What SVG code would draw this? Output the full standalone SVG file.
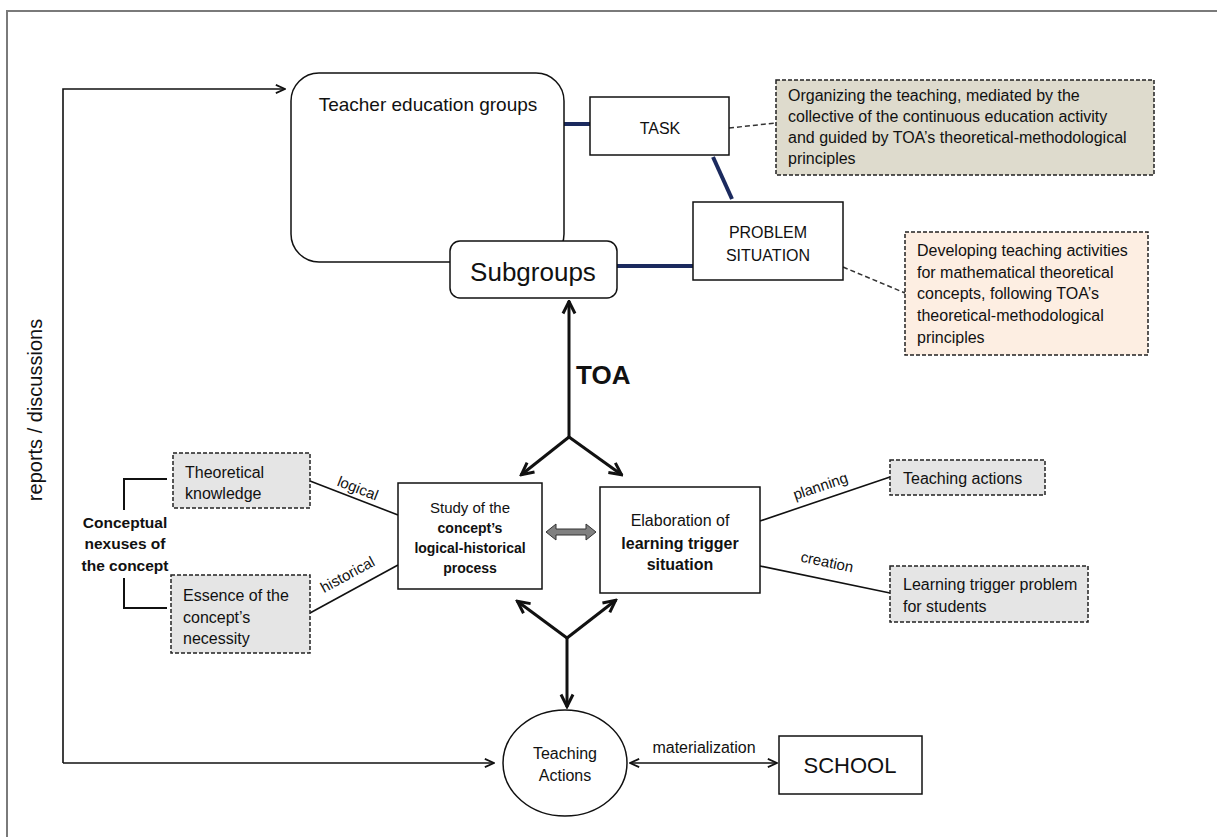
<svg xmlns="http://www.w3.org/2000/svg" width="1217" height="837" viewBox="0 0 1217 837">
<defs>
<style>
text{font-family:"Liberation Sans",Arial,sans-serif;fill:#111}
.box{fill:#fff;stroke:#111;stroke-width:1.5}
.dbox{stroke:#222;stroke-width:1.5;stroke-dasharray:4 2}
.grey{fill:#e5e5e5}
.navy{stroke:#1b2a5e;stroke-width:4;fill:none}
.dash{stroke:#333;stroke-width:1.5;stroke-dasharray:5 3;fill:none}
.thin{stroke:#111;stroke-width:1.6;fill:none}
.thick{stroke:#111;stroke-width:3;fill:none}
.c{text-anchor:middle}
.b{font-weight:bold}
</style>
<marker id="ah" viewBox="0 0 12 12" refX="11" refY="6" markerWidth="11" markerHeight="11" orient="auto-start-reverse" markerUnits="userSpaceOnUse"><path d="M1,1.5 L11,6 L1,10.5" fill="none" stroke="#111" stroke-width="1.8"/></marker>
<marker id="ahT" viewBox="0 0 16 16" refX="14.5" refY="8" markerWidth="16" markerHeight="16" orient="auto-start-reverse" markerUnits="userSpaceOnUse"><path d="M2,2 L14,8 L2,14" fill="none" stroke="#111" stroke-width="3"/></marker>
</defs>

<g id="frame" fill="none" stroke="#7a7a7a" stroke-width="2">
<path d="M7,837 V11 H1217"/>
</g>

<g id="connectors">
<path class="thin" d="M63,763 V89 H285" marker-end="url(#ah)"/>
<path class="thin" d="M63,763 H494" marker-end="url(#ah)"/>
<line class="thin" x1="427" y1="135" x2="482" y2="223" marker-start="url(#ah)" marker-end="url(#ah)"/>
<line class="navy" x1="564" y1="124" x2="590" y2="124"/>
<line class="navy" x1="617" y1="266" x2="693" y2="266"/>
<line class="navy" x1="713" y1="157" x2="732" y2="199"/>
<line class="dash" x1="729" y1="128" x2="776" y2="123"/>
<line class="dash" x1="843" y1="267" x2="905" y2="293"/>
<line class="thick" x1="569" y1="437" x2="569" y2="301" marker-end="url(#ahT)"/>
<line class="thick" x1="569" y1="437" x2="521" y2="475" marker-end="url(#ahT)"/>
<line class="thick" x1="569" y1="437" x2="622" y2="475" marker-end="url(#ahT)"/>
<line class="thick" x1="567" y1="638" x2="517" y2="601" marker-end="url(#ahT)"/>
<line class="thick" x1="567" y1="638" x2="616" y2="600" marker-end="url(#ahT)"/>
<line class="thick" x1="567" y1="638" x2="567" y2="707" marker-end="url(#ahT)"/>
<polygon points="546,532 556,524 556,529 586,529 586,524 596,532 586,540 586,535 556,535 556,540" fill="#808080" stroke="#333" stroke-width="1"/>
<line class="thin" x1="310" y1="481" x2="398" y2="515"/>
<line class="thin" x1="310" y1="613" x2="398" y2="565"/>
<line class="thin" x1="760" y1="521" x2="890" y2="477"/>
<line class="thin" x1="760" y1="566" x2="890" y2="593"/>
<path d="M167,479 H124 V510 M124,578 V608 H167" fill="none" stroke="#111" stroke-width="2"/>
<line class="thin" x1="630" y1="763" x2="777" y2="763" marker-start="url(#ah)" marker-end="url(#ah)"/>
<text x="356" y="493" font-size="15" class="c" transform="rotate(21 356 493)">logical</text>
<text x="350" y="579" font-size="15" class="c" transform="rotate(-28.6 350 579)">historical</text>
<text x="822" y="491" font-size="15" class="c" transform="rotate(-18.7 822 491)">planning</text>
<text x="826" y="567" font-size="15" class="c" transform="rotate(12 826 567)">creation</text>
<text x="704" y="753" font-size="16" class="c">materialization</text>
<text x="42" y="410" font-size="20" class="c" transform="rotate(-90 42 410)">reports / discussions</text>
<text x="576" y="384" font-size="26" class="b">TOA</text>
</g>

<g id="teacher-education-groups">
<rect class="box" x="291" y="73" width="273" height="189" rx="28"/>
<text x="428" y="111" font-size="19" class="c">Teacher education groups</text>
</g>

<g id="subgroups">
<rect class="box" x="450" y="241" width="167" height="57" rx="10"/>
<text x="533" y="281" font-size="26" class="c">Subgroups</text>
</g>

<g id="task">
<rect class="box" x="590" y="97" width="139" height="58"/>
<text x="660" y="134" font-size="16" class="c">TASK</text>
</g>

<g id="problem-situation">
<rect class="box" x="693" y="202" width="150" height="78"/>
<text x="768" y="238" font-size="16" class="c">PROBLEM</text>
<text x="768" y="261" font-size="16" class="c">SITUATION</text>
</g>

<g id="note-task">
<rect class="dbox" x="776" y="80" width="378" height="95" fill="#dedbcd"/>
<text x="788" y="101" font-size="16">Organizing the teaching, mediated by the</text>
<text x="788" y="122" font-size="16">collective of the continuous education activity</text>
<text x="788" y="143" font-size="16">and guided by TOA’s theoretical-methodological</text>
<text x="788" y="164" font-size="16">principles</text>
</g>

<g id="note-problem">
<rect class="dbox" x="905" y="232" width="243" height="123" fill="#fdeee2"/>
<text x="917" y="256" font-size="16">Developing teaching activities</text>
<text x="917" y="278" font-size="16">for mathematical theoretical</text>
<text x="917" y="299" font-size="16">concepts, following TOA’s</text>
<text x="917" y="321" font-size="16">theoretical-methodological</text>
<text x="917" y="343" font-size="16">principles</text>
</g>

<g id="study">
<rect class="box" x="398" y="483" width="144" height="106"/>
<text x="470" y="513" font-size="15" class="c">Study of the</text>
<text x="470" y="533" font-size="14" class="c b">concept’s</text>
<text x="470" y="553" font-size="14" class="c b">logical-historical</text>
<text x="470" y="573" font-size="14" class="c b">process</text>
</g>

<g id="elaboration">
<rect class="box" x="600" y="487" width="160" height="106"/>
<text x="680" y="526" font-size="16" class="c">Elaboration of</text>
<text x="680" y="549" font-size="16" class="c b">learning trigger</text>
<text x="680" y="570" font-size="16" class="c b">situation</text>
</g>

<g id="theoretical-knowledge">
<rect class="dbox grey" x="173" y="453" width="137" height="55"/>
<text x="185" y="478" font-size="16">Theoretical</text>
<text x="185" y="499" font-size="16">knowledge</text>
</g>

<g id="essence">
<rect class="dbox grey" x="171" y="575" width="139" height="78"/>
<text x="183" y="601" font-size="16">Essence of the</text>
<text x="183" y="623" font-size="16">concept’s</text>
<text x="183" y="644" font-size="16">necessity</text>
</g>

<g id="conceptual-nexuses">
<text x="125" y="528" font-size="15.5" class="c b">Conceptual</text>
<text x="125" y="549" font-size="15.5" class="c b">nexuses of</text>
<text x="125" y="571" font-size="15.5" class="c b">the concept</text>
</g>

<g id="teaching-actions-note">
<rect class="dbox grey" x="890" y="460" width="155" height="35"/>
<text x="903" y="484" font-size="16">Teaching actions</text>
</g>

<g id="learning-trigger-problem">
<rect class="dbox grey" x="890" y="566" width="198" height="56"/>
<text x="903" y="590" font-size="16">Learning trigger problem</text>
<text x="903" y="612" font-size="16">for students</text>
</g>

<g id="teaching-actions">
<ellipse class="box" cx="565" cy="763" rx="62" ry="53"/>
<text x="565" y="759" font-size="16" class="c">Teaching</text>
<text x="565" y="781" font-size="16" class="c">Actions</text>
</g>

<g id="school">
<rect class="box" x="779" y="736" width="143" height="58"/>
<text x="850" y="773" font-size="22" class="c">SCHOOL</text>
</g>
</svg>
